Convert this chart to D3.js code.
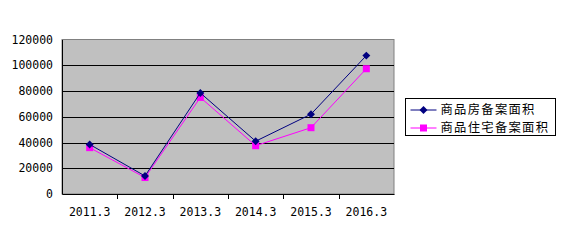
<!DOCTYPE html>
<html>
<head>
<meta charset="utf-8">
<script src="https://cdn.jsdelivr.net/npm/d3@7/dist/d3.min.js"></script>
<style>
body{margin:0;background:#fff;}
text{font-family:"Noto Sans CJK SC","DejaVu Sans",sans-serif;}
.axis text{font-family:"DejaVu Sans Mono",monospace;}
</style>
</head>
<body>
<div class="chart"></div>
<script>
// data
const years = ['2011.3','2012.3','2013.3','2014.3','2015.3','2016.3'];
const houseArea = [38500, 14000, 78500, 41000, 62000, 107500];   // 商品房备案面积
const homeArea = [36000, 12800, 75000, 37500, 51500, 97300];     // 商品住宅备案面积
const yTicks = [0, 20000, 40000, 60000, 80000, 100000, 120000];
const seriesNames = ['商品房备案面积', '商品住宅备案面积'];

const width = 565, height = 245;
const margin = {top:39.5, left:62, right:171, bottom:51};

const svg = d3.select('.chart').append('svg')
  .attr('width', width).attr('height', height);

const xScale = d3.scaleBand().domain(years).range([margin.left, width - margin.right]);
const yScale = d3.scaleLinear([0, 120000], [height - margin.bottom, margin.top]);

// plot area
svg.append('rect')
  .attr('x', margin.left).attr('y', margin.top)
  .attr('width', width - margin.left - margin.right)
  .attr('height', height - margin.top - margin.bottom)
  .style('fill', '#c0c0c0').style('stroke', '#808080');

// gridlines
svg.append('g').selectAll('line').data(yTicks.filter(d => d > 0 && d < 120000)).join('line')
  .attr('x1', margin.left).attr('x2', width - margin.right)
  .attr('y1', d => Math.round(yScale(d)) + 0.5).attr('y2', d => Math.round(yScale(d)) + 0.5)
  .style('stroke', '#000');

// y axis
const yAxis = d3.axisLeft(yScale).tickValues(yTicks).tickSize(0).tickPadding(9).tickFormat(d3.format('d'));
const yAxisDraw = svg.append('g').attr('class', 'axis').attr('transform', `translate(${margin.left},0)`).call(yAxis);
yAxisDraw.select('.domain').style('stroke', '#000');
yAxisDraw.selectAll('text').style('font-size', '11.5px').style('fill', '#000');

// x axis
const xAxisDraw = svg.append('g').attr('class', 'axis').attr('transform', `translate(0,${height - margin.bottom})`)
  .call(d3.axisBottom(xScale).tickSize(0).tickPadding(14));
xAxisDraw.select('.domain').style('stroke', '#000');
xAxisDraw.selectAll('text').style('font-size', '11.5px').style('fill', '#000');
// tick marks between categories
xAxisDraw.selectAll('.sep').data(years.slice(1)).join('line').attr('class', 'sep')
  .attr('x1', d => Math.round(xScale(d)) + 0.5).attr('x2', d => Math.round(xScale(d)) + 0.5)
  .attr('y1', 0).attr('y2', 5).style('stroke', '#000');

const line = d3.line().x((d, i) => xScale(years[i]) + xScale.bandwidth() / 2).y(d => yScale(d));

// 商品住宅 (magenta, squares)
svg.append('path').datum(homeArea).attr('d', line)
  .style('fill', 'none').style('stroke', '#ff00ff').style('stroke-width', 1);
svg.append('g').selectAll('rect').data(homeArea).join('rect')
  .attr('x', (d, i) => xScale(years[i]) + xScale.bandwidth() / 2 - 3.5)
  .attr('y', d => yScale(d) - 3.5)
  .attr('width', 7).attr('height', 7).style('fill', '#ff00ff');

// 商品房 (navy, diamonds)
svg.append('path').datum(houseArea).attr('d', line)
  .style('fill', 'none').style('stroke', '#000080').style('stroke-width', 1);
const diamond = d3.symbol().type(d3.symbolDiamond2).size(40);
svg.append('g').selectAll('path').data(houseArea).join('path')
  .attr('d', diamond)
  .attr('transform', (d, i) => `translate(${xScale(years[i]) + xScale.bandwidth() / 2},${yScale(d)})`)
  .style('fill', '#000080');

// legend
const legend = svg.append('g').attr('transform', 'translate(405.5,98.5)');
legend.append('rect').attr('width', 150).attr('height', 37)
  .style('fill', '#fff').style('stroke', '#000');
const colors = ['#000080', '#ff00ff'];
const rows = legend.selectAll('.row').data(seriesNames).join('g').attr('class', 'row')
  .attr('transform', (d, i) => `translate(0,${11.5 + i * 18})`);
rows.append('line').attr('x1', 5).attr('x2', 31).attr('y1', 0).attr('y2', 0)
  .style('stroke', (d, i) => colors[i]);
rows.each(function(d, i){
  const g = d3.select(this);
  if (i === 0) g.append('path').attr('d', diamond).attr('transform', 'translate(18,0)').style('fill', colors[0]);
  else g.append('rect').attr('x', 14.5).attr('y', -3.5).attr('width', 7).attr('height', 7).style('fill', colors[1]);
});
rows.append('text').attr('x', 35).attr('y', 0).attr('dy', '0.35em')
  .style('font-size', '12.3px').style('letter-spacing', '1.3px').text(d => d);
</script>
</body>
</html>
